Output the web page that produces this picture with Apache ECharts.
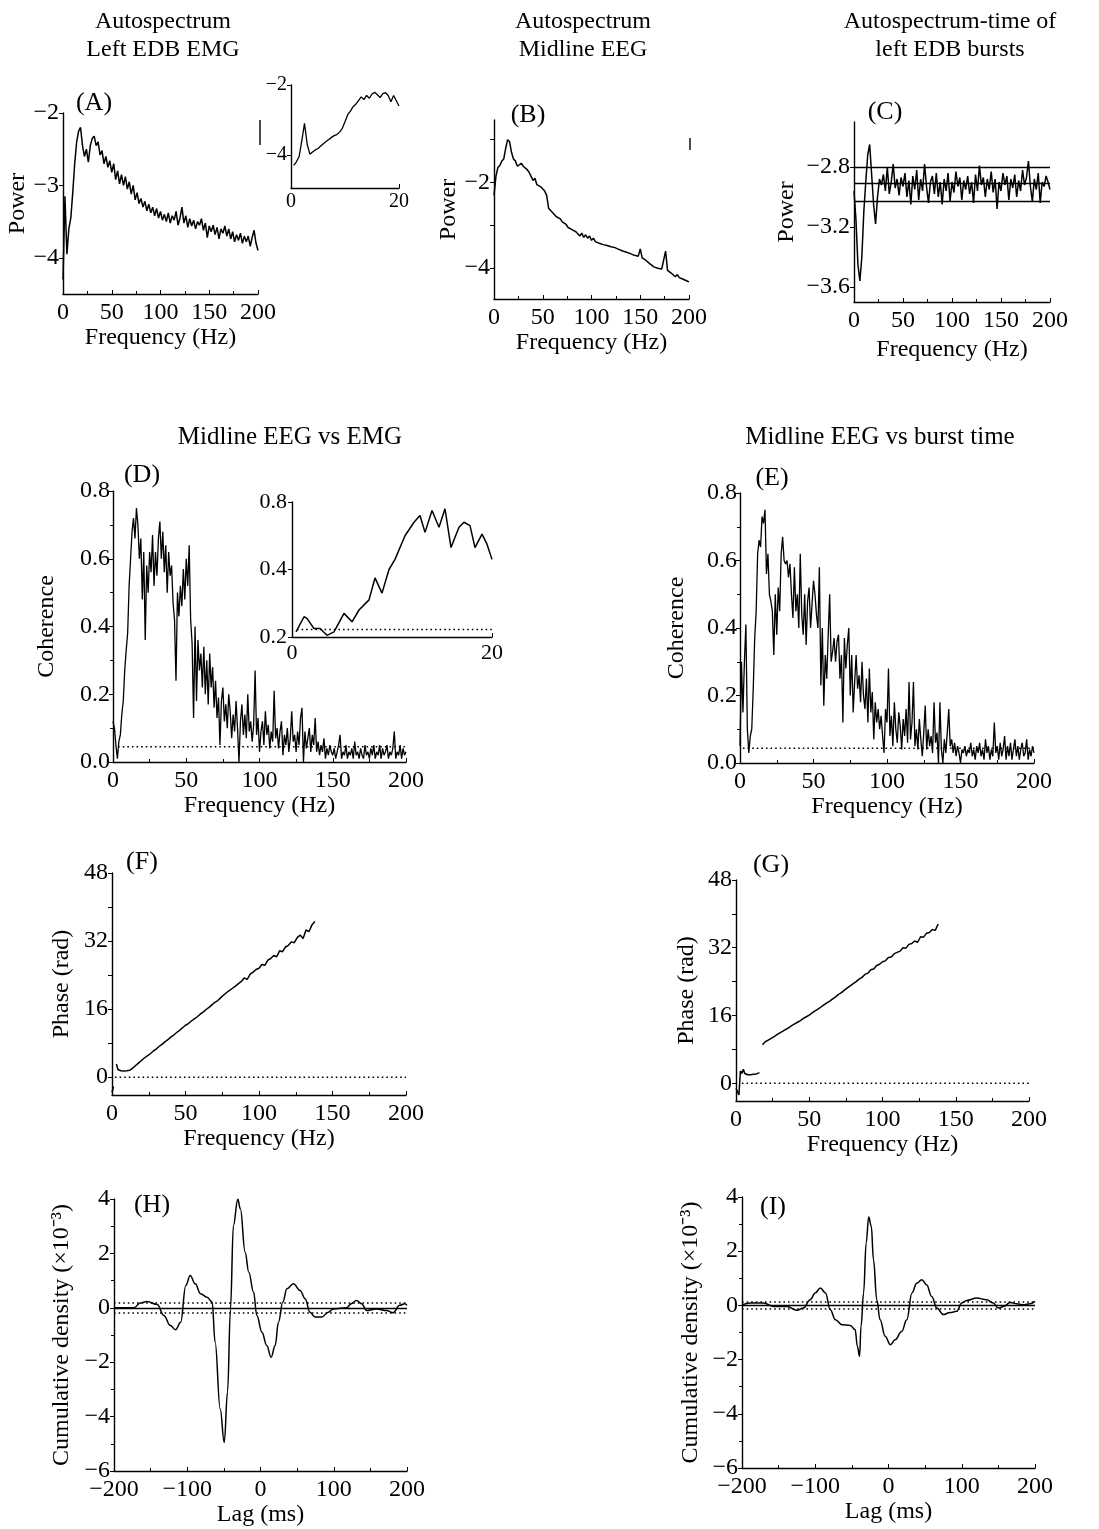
<!DOCTYPE html>
<html><head><meta charset="utf-8">
<script src="https://cdn.jsdelivr.net/npm/echarts@6/dist/echarts.min.js"></script>
<style>html,body{margin:0;padding:0;background:#fff}#c{width:1099px;height:1529px}</style>
</head><body><div id="c"></div>
<script>
// ---------------- DATA ----------------
const freq2 = [0,2,4,6,8,10,12,14,16,18,20,22,24,26,28,30,32,34,36,38,40,42,44,46,48,50,52,54,56,58,60,62,64,66,68,70,72,74,76,78,80,82,84,86,88,90,92,94,96,98,100,102,104,106,108,110,112,114,116,118,120,122,124,126,128,130,132,134,136,138,140,142,144,146,148,150,152,154,156,158,160,162,164,166,168,170,172,174,176,178,180,182,184,186,188,190,192,194,196,198,200];
const freq1 = [0,1,2,3,4,5,6,7,8,9,10,11,12,13,14,15,16,17,18,19,20,21,22,23,24,25,26,27,28,29,30,31,32,33,34,35,36,37,38,39,40,41,42,43,44,45,46,47,48,49,50,51,52,53,54,55,56,57,58,59,60,61,62,63,64,65,66,67,68,69,70,71,72,73,74,75,76,77,78,79,80,81,82,83,84,85,86,87,88,89,90,91,92,93,94,95,96,97,98,99,100,101,102,103,104,105,106,107,108,109,110,111,112,113,114,115,116,117,118,119,120,121,122,123,124,125,126,127,128,129,130,131,132,133,134,135,136,137,138,139,140,141,142,143,144,145,146,147,148,149,150,151,152,153,154,155,156,157,158,159,160,161,162,163,164,165,166,167,168,169,170,171,172,173,174,175,176,177,178,179,180,181,182,183,184,185,186,187,188,189,190,191,192,193,194,195,196,197,198,199,200];

// (A) autospectrum left EDB EMG (log power)
const powerA = [-4.3,-3.15,-3.95,-3.6,-3.45,-3.1,-2.7,-2.4,-2.25,-2.2,-2.45,-2.6,-2.5,-2.68,-2.45,-2.35,-2.32,-2.45,-2.4,-2.58,-2.52,-2.7,-2.6,-2.75,-2.66,-2.82,-2.7,-2.92,-2.8,-2.98,-2.85,-3.0,-2.88,-3.05,-2.95,-3.12,-3.0,-3.2,-3.1,-3.25,-3.18,-3.3,-3.22,-3.35,-3.26,-3.38,-3.3,-3.42,-3.32,-3.45,-3.36,-3.48,-3.4,-3.5,-3.38,-3.52,-3.42,-3.48,-3.36,-3.55,-3.45,-3.3,-3.52,-3.42,-3.58,-3.46,-3.56,-3.48,-3.6,-3.5,-3.55,-3.46,-3.62,-3.52,-3.72,-3.56,-3.64,-3.55,-3.68,-3.58,-3.74,-3.6,-3.66,-3.56,-3.7,-3.6,-3.74,-3.64,-3.78,-3.68,-3.76,-3.66,-3.8,-3.7,-3.78,-3.7,-3.84,-3.72,-3.62,-3.8,-3.9];
const insetAFreq = [0.5,1,1.5,2,2.5,3,3.5,4,4.5,5,5.5,6,6.5,7,7.5,8,8.5,9,9.5,10,10.5,11,11.5,12,12.5,13,13.5,14,14.5,15,15.5,16,16.5,17,17.5,18,18.5,19,19.5,20];
const insetAPower = [-4.3,-4.2,-4.05,-3.6,-3.1,-3.7,-3.98,-3.92,-3.86,-3.82,-3.75,-3.68,-3.62,-3.56,-3.5,-3.45,-3.42,-3.35,-3.24,-3.05,-2.85,-2.75,-2.62,-2.55,-2.45,-2.34,-2.42,-2.3,-2.38,-2.26,-2.21,-2.28,-2.36,-2.25,-2.22,-2.3,-2.48,-2.3,-2.45,-2.6];

// (B) autospectrum midline EEG
const powerB = [-2.3,-1.85,-1.65,-1.6,-1.5,-1.45,-1.2,-1.0,-1.05,-1.3,-1.45,-1.5,-1.62,-1.58,-1.55,-1.62,-1.6,-1.7,-1.76,-1.78,-1.95,-1.9,-2.05,-2.02,-2.1,-2.15,-2.2,-2.3,-2.6,-2.62,-2.7,-2.72,-2.8,-2.78,-2.85,-2.92,-2.95,-2.98,-3.05,-3.02,-3.1,-3.08,-3.15,-3.12,-3.25,-3.18,-3.28,-3.22,-3.3,-3.25,-3.35,-3.3,-3.38,-3.34,-3.42,-3.38,-3.45,-3.42,-3.47,-3.44,-3.5,-3.46,-3.52,-3.48,-3.56,-3.52,-3.6,-3.57,-3.63,-3.6,-3.66,-3.64,-3.7,-3.68,-3.72,-3.55,-3.76,-3.74,-3.82,-3.84,-3.9,-3.92,-3.97,-3.95,-4.0,-3.96,-4.02,-3.98,-3.6,-4.05,-4.08,-4.12,-4.1,-4.2,-4.15,-4.22,-4.18,-4.26,-4.24,-4.3,-4.32];

// (C) autospectrum of burst times + mean and confidence limits
const powerC = [-2.96,-3.15,-3.45,-3.56,-3.4,-3.1,-2.9,-2.72,-2.65,-2.85,-3.05,-3.18,-3.0,-2.88,-2.92,-2.85,-2.96,-2.8,-2.98,-2.9,-2.78,-2.94,-2.88,-2.99,-2.87,-2.93,-2.84,-3.0,-2.89,-3.05,-2.86,-2.95,-2.82,-3.02,-2.88,-2.96,-2.78,-2.93,-3.04,-2.9,-2.86,-2.98,-2.84,-3.0,-2.9,-3.05,-2.88,-2.96,-2.84,-3.03,-2.9,-2.97,-2.83,-2.93,-2.87,-3.02,-2.89,-2.95,-2.86,-2.98,-2.9,-3.04,-2.85,-2.96,-2.79,-2.92,-2.87,-3.0,-2.88,-2.95,-2.83,-2.97,-2.88,-3.08,-2.9,-2.96,-2.84,-2.92,-2.86,-3.02,-2.88,-2.94,-2.85,-3.0,-2.89,-2.96,-2.82,-2.92,-2.87,-2.76,-2.93,-3.03,-2.88,-2.95,-2.84,-3.04,-2.9,-2.93,-2.86,-2.9,-2.95];
const cLevels = [-2.80,-2.91,-3.03];

// (D) coherence midline EEG vs EMG
const cohD = [0.12,0.10,0.05,0.01,0.06,0.08,0.14,0.18,0.27,0.33,0.38,0.52,0.60,0.68,0.72,0.66,0.75,0.70,0.60,0.66,0.48,0.62,0.36,0.58,0.50,0.62,0.56,0.67,0.52,0.62,0.55,0.66,0.71,0.60,0.68,0.56,0.64,0.50,0.62,0.55,0.58,0.47,0.42,0.24,0.50,0.43,0.52,0.46,0.57,0.48,0.60,0.52,0.64,0.42,0.35,0.13,0.40,0.18,0.36,0.27,0.32,0.22,0.34,0.20,0.30,0.17,0.32,0.22,0.28,0.16,0.24,0.13,0.19,0.05,0.18,0.22,0.12,0.17,0.10,0.20,0.15,0.07,0.14,0.09,0.18,0.10,0.00,0.12,0.17,0.08,0.14,0.07,0.20,0.09,0.12,0.06,0.11,0.27,0.08,0.13,0.03,0.09,0.12,0.05,0.15,0.08,0.11,0.04,0.09,0.06,0.21,0.07,0.10,0.04,0.09,0.12,0.02,0.08,0.05,0.10,0.03,0.07,0.15,0.06,0.08,0.03,0.09,0.05,0.13,0.16,0.00,0.09,0.04,0.07,0.10,0.03,0.08,0.05,0.13,0.03,0.06,0.02,0.05,0.03,0.07,0.01,0.04,0.02,0.05,0.03,0.02,0.04,0.01,0.03,0.05,0.08,0.01,0.03,0.02,0.05,0.01,0.03,0.02,0.04,0.01,0.06,0.02,0.03,0.01,0.04,0.02,0.01,0.05,0.02,0.03,0.01,0.04,0.02,0.05,0.01,0.03,0.02,0.05,0.01,0.04,0.02,0.03,0.05,0.01,0.03,0.02,0.04,0.09,0.01,0.03,0.02,0.05,0.01,0.04,0.02,0.03];
const insetDFreq = [0.4,1.2,1.5,2.2,2.8,3.5,4.2,5.2,6,6.7,7.7,8.3,9,9.7,10.3,11.3,12.2,12.8,13.3,14,14.7,15.3,15.9,16.7,17.2,17.8,18.3,19,19.5,20];
const insetDCoh = [0.03,0.12,0.11,0.05,0.05,0.01,0.03,0.14,0.09,0.16,0.22,0.35,0.26,0.40,0.46,0.60,0.68,0.72,0.62,0.75,0.65,0.76,0.53,0.65,0.68,0.66,0.53,0.61,0.55,0.46];
const insetDTickValues = [0, 0.4, 0.8];
const insetDTickLabels = ['0.2', '0.4', '0.8'];
const dLimitX = [3.5, 200], dLimit = 0.045;

// (E) coherence midline EEG vs burst time
const cohE = [0.05,0.30,0.15,0.30,0.41,0.10,0.03,0.08,0.10,0.22,0.37,0.45,0.62,0.66,0.64,0.73,0.71,0.75,0.56,0.62,0.50,0.48,0.45,0.32,0.50,0.38,0.52,0.45,0.62,0.67,0.60,0.59,0.60,0.55,0.59,0.50,0.43,0.58,0.45,0.50,0.40,0.62,0.44,0.38,0.50,0.35,0.48,0.52,0.40,0.47,0.54,0.50,0.44,0.40,0.58,0.23,0.40,0.17,0.32,0.25,0.38,0.50,0.30,0.33,0.37,0.30,0.36,0.38,0.25,0.32,0.12,0.37,0.28,0.35,0.40,0.20,0.32,0.15,0.24,0.32,0.22,0.26,0.18,0.30,0.20,0.16,0.25,0.12,0.28,0.15,0.21,0.07,0.18,0.12,0.16,0.10,0.14,0.08,0.03,0.16,0.12,0.28,0.08,0.14,0.05,0.18,0.10,0.06,0.15,0.11,0.04,0.13,0.08,0.16,0.06,0.24,0.07,0.12,0.24,0.05,0.10,0.04,0.13,0.07,0.02,0.09,0.17,0.04,0.10,0.05,0.08,0.03,0.18,0.06,0.09,0.00,0.18,0.04,0.00,0.07,0.03,0.09,0.16,0.05,0.07,0.03,0.06,0.02,0.05,0.03,0.00,0.04,0.03,0.05,0.02,0.04,0.03,0.06,0.02,0.04,0.01,0.05,0.03,0.06,0.02,0.04,0.01,0.07,0.03,0.05,0.01,0.04,0.02,0.12,0.03,0.05,0.01,0.06,0.02,0.04,0.08,0.01,0.05,0.02,0.06,0.01,0.04,0.07,0.02,0.05,0.01,0.04,0.06,0.02,0.03,0.07,0.01,0.04,0.02,0.05,0.03];
const eLimitX = [2, 200], eLimit = 0.044;

// (F), (G) phase
const phaseFreq = [0,1,2,3,4,5,6,8,10,12,14,16,17,18,20,22,24,26,28,30,32,34,36,38,40,42,44,46,48,50,52,54,56,58,60,62,64,66,68,70,72,74,76,78,80,82,84,86,88,90,92,94,96,98,100,102,104,106,108,110,112,114,116,118,120,122,124,126,128,130,132,134,136,138];
const phaseF = [-3.6,-2.2,null,3.1,1.8,1.6,1.5,1.45,1.5,1.6,2.1,2.7,3.0,3.3,3.9,4.5,5.0,5.5,6.1,6.6,7.2,7.7,8.3,8.8,9.4,9.9,10.5,11.0,11.6,12.2,12.6,13.2,13.7,14.2,14.8,15.3,15.9,16.4,17.0,17.6,18.0,18.7,19.3,19.9,20.4,20.9,21.4,22.0,22.5,23.3,23.0,24.2,24.7,25.3,25.6,26.5,26.3,27.5,27.9,28.6,28.3,29.7,29.5,30.6,31.0,31.8,31.6,32.8,33.4,32.6,34.6,34.2,35.8,36.6];
const phaseG = [-1.2,-1.6,-2.8,2.9,2.3,3.3,2.3,2.0,2.0,2.1,2.2,2.5,null,9.1,9.8,10.2,10.6,11.0,11.5,11.9,12.3,12.7,13.1,13.6,14.0,14.4,14.8,15.3,15.7,16.1,16.6,17.1,17.5,18.0,18.5,19.0,19.4,19.9,20.4,21.0,21.4,22.0,22.5,23.0,23.5,24.0,24.6,25.0,25.7,26.0,26.8,27.0,27.8,28.1,28.7,28.9,29.7,29.8,30.6,30.9,31.2,32.0,31.9,32.8,33.0,33.6,33.3,34.6,34.5,35.4,35.6,36.3,36.1,37.6];
const fZeroX = [2, 200], gZeroX = [4, 200];

// (H), (I) cumulant density (x10^-3)
const lagH = [-200,-173,-164,-155,-141,-132,-123,-116,-109,-102,-96,-89,-82,-73,-66,-62,-55,-49.5,-45,-41,-37,-31,-27.5,-21,-16,-9.5,-5,2,8.5,14.5,20,24.5,30.5,36,45,54,61,67.5,74.5,83.5,92.5,99.5,117.5,124,131,138,145,158,172,181,190,197,200];
const cumH = [0,0,0.18,0.23,0.12,-0.28,-0.65,-0.81,-0.53,0.82,1.19,0.88,0.52,0.39,0.21,-1.26,-3.72,-4.95,-3.1,-0.04,3.03,3.99,3.64,2.05,1.31,0.58,-0.28,-0.9,-1.39,-1.82,-1.39,-0.53,0.21,0.7,0.88,0.64,0.33,-0.16,-0.34,-0.34,-0.16,-0.04,0,0.15,0.27,0.15,-0.1,-0.04,-0.1,-0.18,0.09,0.15,0.09];
const hLimit = 0.18;
const lagI = [-200,-188.5,-170.5,-157,-138.5,-125,-116,-107,-100,-93,-86,-79.5,-72.5,-63.5,-52,-45.5,-42.5,-39.5,-37.5,-34,-30.5,-27,-23.5,-20.5,-16,-11.5,-4.5,2.5,9,18,25,32,38.5,45.5,52,59,66,75,84,93,100,107,120.5,134,143,150,157,166,175,184,193,200];
const cumI = [0.02,0.09,0.09,-0.04,-0.04,-0.18,-0.1,0.21,0.46,0.64,0.46,-0.16,-0.53,-0.71,-0.74,-0.9,-1.51,-1.88,-0.77,0.46,2.3,3.26,2.92,1.69,0.21,-0.53,-1.14,-1.45,-1.27,-0.96,-0.53,0.46,0.82,0.95,0.76,0.33,-0.1,-0.34,-0.26,-0.22,0.09,0.18,0.27,0.21,0.09,-0.1,-0.04,0.11,0.06,0.02,0.06,0.15];
const iLimit = 0.12;

// ---------------- CHART ----------------
const FONT = '"Liberation Serif","Times New Roman",serif';
const zip = (xs, ys) => xs.map((x, i) => [x, ys[i] === null ? '-' : ys[i]]);
const minus = v => String(v).replace('-', '\u2212');
const DOT = [1.6, 3];
const LW = 1.5;
const grids = [], xAxes = [], yAxes = [], series = [];

function axis(gi, o, isX) {
  const a = {
    gridIndex: gi, type: 'value', min: o.min, max: o.max,
    splitLine: { show: false },
    axisLine: { show: true, onZero: false, lineStyle: { color: '#000', width: 1.4 } },
    axisTick: { show: true, inside: isX, length: 4, lineStyle: { color: '#000', width: 1 } },
    minorTick: { show: !!o.minor, splitNumber: o.minor || 2, length: 3, lineStyle: { color: '#000', width: 1 } },
    axisLabel: { color: '#000', fontFamily: FONT, fontSize: o.fs || 24, margin: o.margin != null ? o.margin : (isX ? 7 : 4),
      formatter: o.fmt || minus, showMinLabel: true, showMaxLabel: true },
    name: o.name || '', nameLocation: 'middle', nameGap: o.gap || 30,
    nameTextStyle: { color: '#000', fontFamily: FONT, fontSize: 24 }
  };
  if (o.interval) a.interval = o.interval;
  if (o.labels) a.axisLabel.customValues = o.labels;
  if (o.ticks) a.axisTick.customValues = o.ticks;
  return a;
}
function panel(box, xo, yo, list) {
  const gi = grids.length;
  grids.push({ left: box[0], top: box[1], width: box[2], height: box[3] });
  xAxes.push(axis(gi, xo, true));
  yAxes.push(axis(gi, yo, false));
  list.forEach(s => series.push(Object.assign({
    type: 'line', xAxisIndex: gi, yAxisIndex: gi, showSymbol: false, symbol: 'none',
    silent: true, animation: false, lineStyle: { color: '#000', width: LW }
  }, s)));
}
const fx = { min: 0, max: 200, interval: 50, minor: 2, name: 'Frequency (Hz)', gap: 32 };
const dotted = (xs, v) => ({ data: [[xs[0], v], [xs[1], v]], lineStyle: { color: '#000', width: 1.5, type: DOT } });

// A
panel([63, 113, 195, 181], fx,
  { min: -4.5, max: -2, labels: [-4, -3, -2], ticks: [-4, -3, -2], name: 'Power', gap: 33 },
  [{ data: zip(freq2, powerA) }]);
// A inset
panel([291, 85, 108, 103], { min: 0, max: 20, labels: [0, 20], ticks: [0, 20], fs: 20, margin: 4 },
  { min: -4.95, max: -2, labels: [-4, -2], ticks: [-4, -2], fs: 20, margin: 4 },
  [{ data: zip(insetAFreq, insetAPower), lineStyle: { color: '#000', width: 1.3 } }]);
// B
panel([494, 120, 195, 179], fx,
  { min: -4.72, max: -0.54, labels: [-4, -2], ticks: [-4, -3, -2, -1], name: 'Power', gap: 31 },
  [{ data: zip(freq2, powerB) }]);
// C
panel([854, 122, 196, 180], Object.assign({}, fx, { gap: 36 }),
  { min: -3.7, max: -2.5, labels: [-3.6, -3.2, -2.8], ticks: [-3.6, -3.2, -2.8], name: 'Power', gap: 55,
    fmt: v => minus(v.toFixed(1)) },
  [{ data: zip(freq2, powerC),
     markLine: { symbol: 'none', silent: true, label: { show: false }, animation: false,
       lineStyle: { color: '#000', width: 1.3, type: 'solid' }, data: cLevels.map(v => ({ yAxis: v })) } }]);
// D
panel([113, 491, 293, 271], fx,
  { min: 0, max: 0.8, interval: 0.2, minor: 2, name: 'Coherence', gap: 54, margin: 3, fmt: v => v.toFixed(1) },
  [{ data: zip(freq1, cohD), lineStyle: { color: '#000', width: 1.3 } }, dotted(dLimitX, dLimit)]);
// D inset
panel([292, 502, 200, 135], { min: 0, max: 20, labels: [0, 20], ticks: [0, 20], fs: 22, margin: 5 },
  { min: 0, max: 0.8, labels: insetDTickValues, ticks: insetDTickValues, fs: 22, margin: 5,
    fmt: v => insetDTickLabels[insetDTickValues.indexOf(v)] },
  [{ data: zip(insetDFreq, insetDCoh) }, dotted([0.5, 20], dLimit)]);
// E
panel([740, 493, 294, 270], fx,
  { min: 0, max: 0.8, interval: 0.2, minor: 2, name: 'Coherence', gap: 51, margin: 3, fmt: v => v.toFixed(1) },
  [{ data: zip(freq1, cohE), lineStyle: { color: '#000', width: 1.3 } }, dotted(eLimitX, eLimit)]);
// F
panel([112, 873, 294, 222], fx,
  { min: -4.2, max: 48, labels: [0, 16, 32, 48], ticks: [0, 8, 16, 24, 32, 40, 48], name: 'Phase (rad)', gap: 38 },
  [{ data: zip(phaseFreq, phaseF) }, dotted(fZeroX, 0)]);
// G
panel([736, 880, 293, 221], fx,
  { min: -4.2, max: 48, labels: [0, 16, 32, 48], ticks: [0, 8, 16, 24, 32, 40, 48], name: 'Phase (rad)', gap: 37 },
  [{ data: zip(phaseFreq, phaseG) }, dotted(gZeroX, 0)]);
// H
const lagAxis = { min: -200, max: 200, interval: 100, minor: 2, name: 'Lag (ms)', gap: 32 };
const cumAxis = { min: -6, max: 4, interval: 2, minor: 2, name: 'Cumulative density (\u00d710\u207b\u00b3)', gap: 40 };
const limLines = lim => ({ symbol: 'none', silent: true, label: { show: false }, animation: false,
  data: [{ yAxis: 0, lineStyle: { color: '#000', width: 1.4, type: 'solid' } },
         { yAxis: lim, lineStyle: { color: '#000', width: 1.5, type: DOT } },
         { yAxis: -lim, lineStyle: { color: '#000', width: 1.5, type: DOT } }] });
panel([114, 1199, 293, 272], lagAxis, cumAxis,
  [{ data: zip(lagH, cumH), smooth: 0.4, smoothMonotone: 'x', markLine: limLines(hLimit) }]);
// I
panel([742, 1197, 293, 271], lagAxis, Object.assign({}, cumAxis, { gap: 39 }),
  [{ data: zip(lagI, cumI), smooth: 0.4, smoothMonotone: 'x', markLine: limLines(iLimit) }]);

// texts
const txt = (x, y, t, size) => ({ type: 'text', x, y, silent: true,
  style: { text: t, fill: '#000', font: size + 'px ' + FONT, align: 'center', verticalAlign: 'middle',
           textAlign: 'center', textVerticalAlign: 'middle' } });
const bar = (x, y1, y2) => ({ type: 'line', silent: true, shape: { x1: x, y1, x2: x, y2 }, style: { stroke: '#000', lineWidth: 1.4 } });
const graphics = [
  txt(163, 22, 'Autospectrum', 24), txt(163, 50, 'Left EDB EMG', 24),
  txt(583, 22, 'Autospectrum', 24), txt(583, 50, 'Midline EEG', 24),
  txt(950, 22, 'Autospectrum-time of', 24), txt(950, 50, 'left EDB bursts', 24),
  txt(290, 437, 'Midline EEG vs EMG', 25), txt(880, 437, 'Midline EEG vs burst time', 25),
  txt(94, 103, '(A)', 26), txt(528, 115, '(B)', 26), txt(885, 112, '(C)', 26),
  txt(142, 475, '(D)', 26), txt(772, 478, '(E)', 26), txt(142, 862, '(F)', 26),
  txt(771, 865, '(G)', 26), txt(152, 1205, '(H)', 26), txt(773, 1207, '(I)', 26),
  bar(260, 120, 145), bar(690, 138, 150)
];

const chart = echarts.init(document.getElementById('c'), null, { renderer: 'canvas', width: 1099, height: 1529 });
chart.setOption({
  animation: false, backgroundColor: '#fff',
  grid: grids, xAxis: xAxes, yAxis: yAxes, series: series, graphic: graphics
});
</script></body></html>
